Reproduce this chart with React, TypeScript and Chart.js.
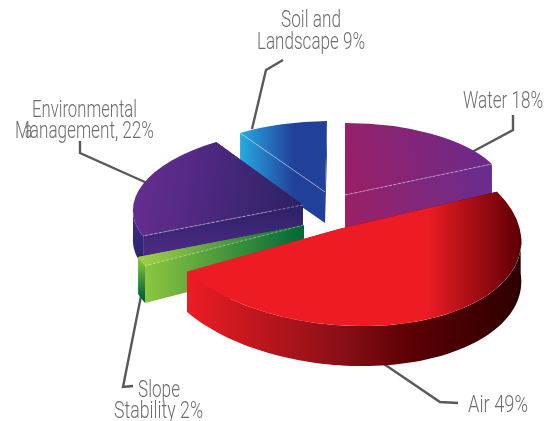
import React, { useEffect, useRef } from "react";
import { Chart, registerables } from "chart.js";

Chart.register(...registerables);

// Share of each topic, in percent, clockwise from twelve o'clock.
const topics = ["Water", "Air", "Slope Stability", "Environmental Management", "Soil and Landscape"];
const shares = [18, 49, 2, 22, 9];

// Back-to-front painting order of the wedges.
const paintOrder = [4, 0, 3, 2, 1];

type Pt = [number, number];
type Stops = [number, string][];
type Paint = { from: Pt; to: Pt; stops: Stops };

// Each wedge is sheared onto the floor with its own apex and unit axes,
// which gives the exploded perspective look.
const wedgeFrames: { c: Pt; a: Pt; b: Pt; depth: number }[] = [
  { c: [345, 195], a: [162.4, -0.4], b: [0, 72], depth: 35 },
  { c: [339, 229], a: [181.7, 4.5], b: [15, 97], depth: 40 },
  { c: [304, 225], a: [170.6, -2.7], b: [-19.6, 80], depth: 37 },
  { c: [303, 205], a: [170, -3], b: [-5, 76.5], depth: 30 },
  { c: [325, 192], a: [161.7, -1.7], b: [-2, 71], depth: 31 },
];

const topPaints: Paint[] = [
  { from: [345, 190], to: [492, 150], stops: [[0, "#9b1f66"], [1, "#6a2a8c"]] },
  { from: [187, 0], to: [520, 0], stops: [[0, "#ed1c24"], [0.72, "#ed1c24"], [1, "#5d0005"]] },
  { from: [138, 0], to: [304, 0], stops: [[0, "#a6d14a"], [1, "#006838"]] },
  { from: [135, 190], to: [303, 215], stops: [[0, "#662d91"], [1, "#2b2165"]] },
  { from: [240, 0], to: [327, 0], stops: [[0, "#27aae1"], [0.62, "#21409a"], [1, "#21409a"]] },
];

const wallPaints: Paint[] = [
  { from: [492, 165], to: [345, 232], stops: [[0, "#662d91"], [1, "#9e1f63"]] },
  { from: [187, 0], to: [520, 0], stops: [[0, "#ed1c24"], [0.46, "#8a0f16"], [0.68, "#5a0004"], [1, "#2e0000"]] },
  { from: [145, 0], to: [304, 0], stops: [[0, "#8dc63f"], [1, "#006838"]] },
  { from: [303, 205], to: [303, 250], stops: [[0, "#2b2165"], [1, "#4b2a82"]] },
  { from: [240, 0], to: [327, 0], stops: [[0, "#27aae1"], [0.62, "#21409a"], [1, "#21409a"]] },
];

const rimPaints: Paint[] = [
  wallPaints[0],
  wallPaints[1],
  { from: [0, 258], to: [0, 296], stops: [[0, "#8dc63f"], [1, "#006838"]] },
  { from: [133, 225], to: [140, 262], stops: [[0, "#3d2a80"], [1, "#2b2369"]] },
  wallPaints[4],
];

// Edge highlight drawn on the front radial edge of a wedge.
const seamStyle = "rgba(255,255,255,0.5)";

const labelLines: { text: string; x: number; y: number; w: number }[] = [
  { text: "Soil and", x: 281, y: 27, w: 60 },
  { text: "Landscape 9%", x: 257, y: 49, w: 108 },
  { text: "Water 18%", x: 463, y: 108, w: 80 },
  { text: "Environmental", x: 32, y: 117, w: 105 },
  { text: "Management, 22%", x: 15, y: 138, w: 139 },
  { text: "a", x: 25, y: 138, w: 7 },
  { text: "Slope", x: 138, y: 397, w: 42 },
  { text: "Stability 2%", x: 114, y: 418, w: 89 },
  { text: "Air 49%", x: 468, y: 412, w: 60 },
];

const leaders: Pt[][] = [
  [[252, 129], [266, 70], [283, 60]],
  [[472, 152], [513, 130], [513, 115]],
  [[147, 183], [80, 153], [80, 141]],
  [[141, 296], [123, 387], [133, 386]],
  [[381, 362], [440, 402], [458, 403]],
];

const project = (i: number, u: number, v: number): Pt => {
  const f = wedgeFrames[i];
  return [f.c[0] + u * f.a[0] + v * f.b[0], f.c[1] + u * f.a[1] + v * f.b[1]];
};

const makeGradient = (ctx: CanvasRenderingContext2D, paint: Paint, from: Pt, to: Pt) => {
  const g = ctx.createLinearGradient(from[0], from[1], to[0], to[1]);
  paint.stops.forEach(([o, c]) => g.addColorStop(o, c));
  return g;
};

const screenGradient = (ctx: CanvasRenderingContext2D, paint: Paint) =>
  makeGradient(ctx, paint, paint.from, paint.to);

// Builds a gradient in the pie's own coordinates whose bands land where the
// paint asks for them once the wedge has been sheared onto the floor.
const localGradient = (ctx: CanvasRenderingContext2D, i: number, paint: Paint, cx: number, cy: number, r: number) => {
  const f = wedgeFrames[i];
  const dx = paint.to[0] - paint.from[0];
  const dy = paint.to[1] - paint.from[1];
  const len2 = dx * dx + dy * dy;
  // Gradient of the paint parameter with respect to (u, v).
  const gu = (f.a[0] * dx + f.a[1] * dy) / len2;
  const gv = (f.b[0] * dx + f.b[1] * dy) / len2;
  const gg = gu * gu + gv * gv;
  // Paint parameter at the wedge apex (u = v = 0).
  const t0 = ((f.c[0] - paint.from[0]) * dx + (f.c[1] - paint.from[1]) * dy) / len2;
  const startU = (-t0 * gu) / gg;
  const startV = (-t0 * gv) / gg;
  const endU = ((1 - t0) * gu) / gg;
  const endV = ((1 - t0) * gv) / gg;
  return makeGradient(ctx, paint, [cx + r * startU, cy + r * startV], [cx + r * endU, cy + r * endV]);
};

const topFill = (c: any) => {
  const chart = c.chart;
  const i = c.dataIndex;
  const area = chart.chartArea;
  if (!area || i === undefined) return "#888";
  const cx = (area.left + area.right) / 2;
  const cy = (area.top + area.bottom) / 2;
  const r = Math.min(area.right - area.left, area.bottom - area.top) / 2;
  return localGradient(chart.ctx, i, topPaints[i], cx, cy, r);
};

const polygon = (ctx: CanvasRenderingContext2D, pts: Pt[], fill: any) => {
  ctx.beginPath();
  pts.forEach((p, k) => (k ? ctx.lineTo(p[0], p[1]) : ctx.moveTo(p[0], p[1])));
  ctx.closePath();
  ctx.fillStyle = fill;
  ctx.fill();
};

const drop = (p: Pt, d: number): Pt => [p[0], p[1] + d];

const pie3d = {
  id: "pie3d",
  beforeDatasetDraw(chart: any) {
    const ctx: CanvasRenderingContext2D = chart.ctx;
    const arcs = chart.getDatasetMeta(0).data;

    ctx.save();
    ctx.strokeStyle = "#58595b";
    ctx.lineWidth = 2.4;
    ctx.lineJoin = "miter";
    leaders.forEach((line) => {
      ctx.beginPath();
      line.forEach((p, k) => (k ? ctx.lineTo(p[0], p[1]) : ctx.moveTo(p[0], p[1])));
      ctx.stroke();
    });
    ctx.restore();

    paintOrder.forEach((i) => {
      const arc = arcs[i];
      const f = wedgeFrames[i];
      const { x, y, startAngle, endAngle, outerRadius: r } = arc.getProps(
        ["x", "y", "startAngle", "endAngle", "outerRadius"],
        true
      );
      const at = (angle: number) => project(i, Math.cos(angle), Math.sin(angle));
      const wallFill = screenGradient(ctx, wallPaints[i]);
      const startPt = at(startAngle);
      const endPt = at(endAngle);

      // Radial side walls, then the curved rim that faces the viewer.
      polygon(ctx, [f.c, endPt, drop(endPt, f.depth), drop(f.c, f.depth)], wallFill);
      polygon(ctx, [f.c, startPt, drop(startPt, f.depth), drop(f.c, f.depth)], wallFill);

      const from = Math.max(startAngle, 0);
      const to = Math.min(endAngle, Math.PI);
      if (to > from) {
        const rim: Pt[] = [];
        for (let k = 0; k <= 80; k++) rim.push(at(from + ((to - from) * k) / 80));
        const lower = rim.map((p) => drop(p, f.depth)).reverse();
        polygon(ctx, rim.concat(lower), screenGradient(ctx, rimPaints[i]));
      }

      // The wedge's top face is the library's own arc, sheared into place.
      ctx.save();
      ctx.transform(
        f.a[0] / r,
        f.a[1] / r,
        f.b[0] / r,
        f.b[1] / r,
        f.c[0] - (f.a[0] * x + f.b[0] * y) / r,
        f.c[1] - (f.a[1] * x + f.b[1] * y) / r
      );
      arc.draw(ctx);
      ctx.restore();

      // Thin seam along the front radial edge.
      if (i !== 1) {
        const seamEnd = i === 0 ? endPt : startPt;
        ctx.save();
        ctx.strokeStyle = seamStyle;
        ctx.lineWidth = 0.8;
        ctx.setLineDash(i === 4 ? [] : [3, 1.5]);
        ctx.beginPath();
        ctx.moveTo(f.c[0], f.c[1]);
        ctx.lineTo(seamEnd[0], seamEnd[1]);
        ctx.stroke();
        ctx.restore();
      }
    });
    return false;
  },
  afterDraw(chart: any) {
    const ctx: CanvasRenderingContext2D = chart.ctx;
    ctx.save();
    ctx.fillStyle = "#6d6e71";
    ctx.font = "300 23px Roboto, sans-serif";
    ctx.textAlign = "left";
    ctx.textBaseline = "alphabetic";
    labelLines.forEach((l) => ctx.fillText(l.text, l.x, l.y, l.w));
    ctx.restore();
  },
};

export default function App() {
  const ref = useRef<HTMLCanvasElement>(null);
  useEffect(() => {
    document.body.style.margin = "0";
    const chart = new Chart(ref.current!, {
      type: "pie",
      data: {
        labels: topics,
        datasets: [{ data: shares, backgroundColor: topFill, borderWidth: 0, hoverBorderWidth: 0 }],
      },
      options: {
        responsive: false,
        animation: false,
        layout: { padding: 0 },
        plugins: { legend: { display: false }, tooltip: { enabled: false } },
      },
      plugins: [pie3d],
    } as any);
    return () => chart.destroy();
  }, []);
  return (
    <div style={{ width: 550, height: 421, background: "#fff" }}>
      <canvas ref={ref} width={550} height={421} style={{ display: "block" }} />
    </div>
  );
}
